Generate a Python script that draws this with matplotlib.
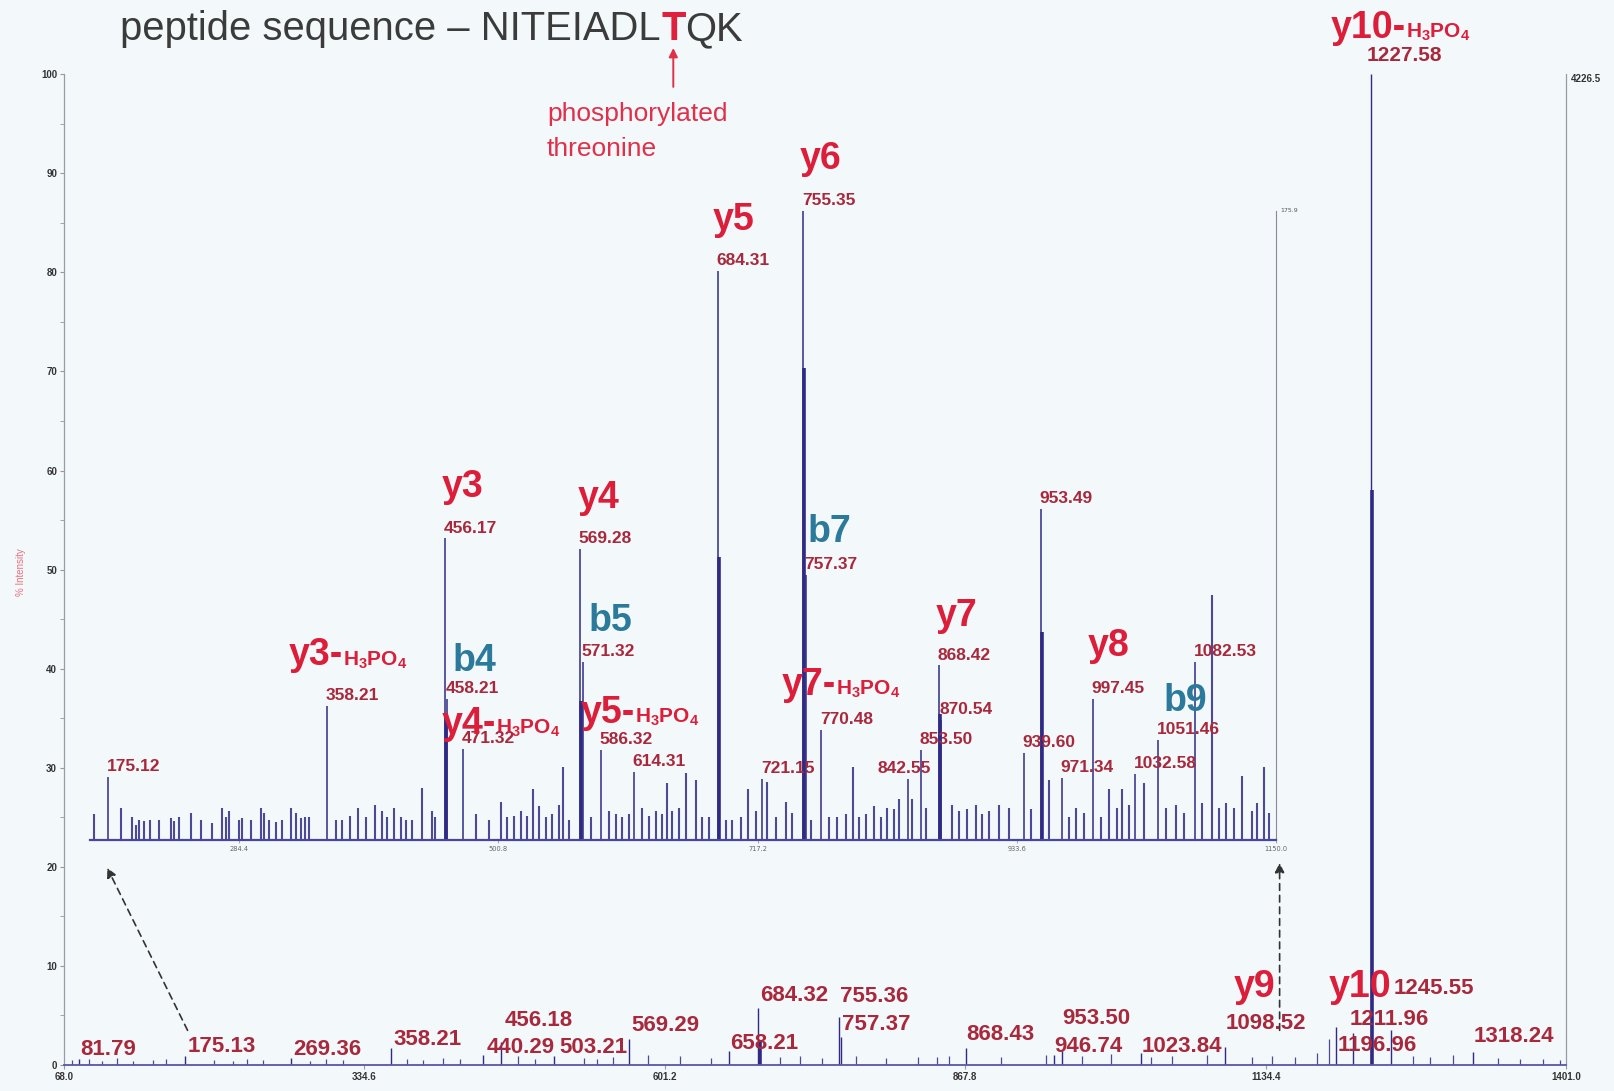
import matplotlib
matplotlib.use('Agg')
import matplotlib.pyplot as plt

plt.rcParams['mathtext.fontset'] = 'custom'
plt.rcParams['mathtext.rm'] = 'Liberation Sans:bold'
plt.rcParams['mathtext.it'] = 'Liberation Sans:bold'
plt.rcParams['mathtext.bf'] = 'Liberation Sans:bold'

SANS = ['Liberation Sans', 'DejaVu Sans']

# full scan, m/z vs % intensity (100 % = 4226.5 counts)
main_mz = [81.79, 175.13, 269.36, 358.21, 440.29, 456.18, 503.21, 569.29, 658.21,
           684.32, 755.36, 757.37, 868.43, 946.74, 953.50, 1023.84, 1098.52,
           1196.96, 1211.96, 1227.58, 1245.55, 1318.24]
main_int = [0.6, 0.9, 0.7, 1.7, 1.0, 2.3, 0.9, 2.6, 1.4,
            5.8, 4.8, 2.8, 1.7, 1.0, 1.4, 1.2, 1.8,
            3.8, 3.2, 100.0, 3.5, 1.3]
# unresolved isotope shoulders
main_iso_mz = [685.32, 1228.58]
main_iso_int = [2.5, 58.0]
# baseline peaks
main_noise_mz = [75.2, 90.1, 101.5, 115.1, 129.3, 147.1, 158.9, 201.3, 218.2, 230.1,
                 244.2, 286.1, 300.3, 315.2, 372.1, 386.3, 404.2, 419.3, 471.3, 486.2,
                 529.3, 541.4, 555.1, 586.3, 614.3, 641.9, 703.2, 721.2, 740.7, 770.5,
                 797.1, 825.6, 842.6, 853.5, 899.3, 939.6, 971.3, 997.5, 1032.6, 1051.5,
                 1082.5, 1121.9, 1140.0, 1160.2, 1180.4, 1190.3, 1265.1, 1280.2, 1300.3,
                 1340.2, 1360.5, 1380.1, 1395.2]
main_noise_int = [0.5, 0.6, 0.4, 0.7, 0.4, 0.5, 0.6, 0.5, 0.4, 0.6,
                  0.5, 0.4, 0.6, 0.5, 0.6, 0.5, 0.7, 0.6, 0.9, 0.6,
                  0.7, 0.6, 0.8, 1.0, 0.9, 0.7, 0.8, 0.9, 0.7, 0.9,
                  0.7, 0.8, 0.8, 0.9, 0.8, 1.0, 0.9, 1.1, 0.8, 0.9,
                  1.0, 0.8, 0.9, 0.8, 1.2, 2.6, 0.9, 0.8, 1.0,
                  0.7, 0.6, 0.6, 0.5]
main_ticks = [68.0, 334.6, 601.2, 867.8, 1134.4, 1401.0]

# labelled peaks of the full scan and where their numbers sit (m/z, %)
main_label_mz = [81.79, 175.13, 269.36, 358.21, 456.18, 440.29, 503.21, 569.29, 658.21,
                 684.32, 755.36, 757.37, 868.43, 953.50, 946.74, 1023.84, 1098.52,
                 1211.96, 1196.96, 1245.55, 1318.24]
main_label_pos = [(82.6, 1.6), (177.7, 1.9), (271.9, 1.6), (360.6, 2.6), (459.3, 4.5),
                  (442.8, 1.8), (507.8, 1.8), (571.7, 4.0), (659.5, 2.2), (686.0, 7.0),
                  (756.4, 6.9), (758.2, 4.1), (868.9, 3.1), (953.9, 4.7), (946.6, 1.9),
                  (1024.3, 1.9), (1099.3, 4.2), (1209.0, 4.6), (1198.0, 2.0), (1248.3, 7.7),
                  (1318.7, 2.9)]

# zoomed region 160-1150 m/z, % of its own base peak (175.9)
inset_mz = [175.12, 358.21, 456.17, 458.21, 471.32, 569.28, 571.32, 586.32, 614.31,
            684.31, 721.15, 755.35, 757.37, 770.48, 842.55, 853.50, 868.42, 870.54,
            939.60, 953.49, 971.34, 997.45, 1032.58, 1051.46, 1082.53]
inset_int = [10.0, 21.3, 47.9, 22.3, 14.4, 46.2, 28.2, 14.3, 10.7,
             90.5, 9.7, 100.0, 42.1, 17.4, 9.7, 14.3, 27.7, 19.0,
             13.8, 52.6, 9.8, 22.3, 10.5, 15.9, 28.2]
inset_iso_mz = [457.17, 570.28, 685.31, 756.35, 869.42, 954.49]
inset_iso_int = [20.0, 22.0, 45.0, 75.0, 20.0, 33.0]
inset_noise_mz = [163.4, 185.6, 194.8, 198.2, 200.9, 205.1, 210.1, 217.6, 227.4, 230.1,
                  234.3, 244.1, 252.4, 262.1, 270.0, 273.3, 276.1, 284.4, 287.2, 294.2,
                  302.5, 305.3, 309.4, 315.0, 320.5, 327.6, 331.7, 335.9, 339.5, 342.8,
                  365.1, 370.6, 376.8, 384.0, 390.2, 397.9, 404.0, 408.2,
                  413.8, 419.4, 423.5, 429.1, 437.4, 445.2, 448.0, 482.0, 493.1, 502.8,
                  508.4, 514.0, 519.5, 525.1, 529.8, 534.8, 540.4, 545.9, 551.5, 554.9,
                  559.9, 578.0, 593.2, 598.8, 604.4, 609.9, 621.0, 626.6, 632.2, 637.7,
                  641.9, 646.1, 651.7, 657.3,
                  665.6, 671.1, 676.7, 690.6, 696.2, 703.2, 709.5, 715.7, 725.4, 732.4,
                  740.7, 746.3, 761.6, 776.9, 783.8, 790.8, 796.9, 801.9, 807.5, 814.5,
                  820.0, 825.6, 831.1, 835.3, 846.5, 857.6, 879.8, 885.4, 892.3, 899.3,
                  904.9,
                  910.5, 918.8, 927.1, 945.2, 960.5, 977.2, 982.8, 989.7, 1003.7, 1010.6,
                  1017.5, 1021.7, 1027.3, 1039.8, 1057.9, 1066.3, 1073.2, 1088.5, 1096.3,
                  1102.4, 1108.0, 1114.9, 1121.9, 1130.2, 1134.4, 1140.0, 1144.2]
inset_noise_int = [4.0, 5.0, 3.6, 2.3, 3.1, 3.0, 3.1, 3.1, 3.4, 3.0,
                   3.6, 4.2, 3.1, 2.6, 5.0, 3.6, 4.5, 3.1, 3.4, 3.1,
                   5.0, 4.2, 3.1, 2.8, 3.1, 5.0, 4.2, 3.4, 3.6, 3.6,
                   3.1, 3.1, 3.8, 5.0, 3.6, 5.5, 4.5, 3.6,
                   5.0, 3.6, 3.1, 3.1, 8.2, 4.5, 3.6, 4.0, 3.1, 5.9,
                   3.6, 3.8, 4.5, 3.8, 8.0, 5.3, 3.6, 4.0, 5.5, 11.6,
                   3.1, 3.6, 4.5, 4.0, 3.6, 4.0, 5.0, 3.8, 4.5, 4.0,
                   9.0, 4.5, 5.0, 10.6,
                   9.5, 3.6, 3.6, 3.1, 3.1, 3.6, 8.1, 4.5, 9.2, 3.6,
                   6.0, 4.2, 3.1, 3.6, 3.6, 4.0, 11.6, 3.6, 4.0, 5.3,
                   3.6, 5.0, 4.8, 6.4, 6.4, 5.0, 5.5, 4.5, 4.8, 5.5,
                   4.0,
                   4.5, 5.5, 5.0, 4.8, 9.5, 3.6, 5.0, 4.2, 3.6, 8.0,
                   5.0, 8.0, 5.5, 9.0, 5.0, 5.5, 4.2, 5.8, 38.9,
                   5.0, 5.8, 5.0, 10.1, 4.5, 5.8, 11.6, 4.2]
inset_ticks = [284.4, 500.8, 717.2, 933.6, 1150.0]

# fragment ion names: text, m/z, height, ion series, neutral loss of H3PO4
inset_ions = [
    ('y3-', 325.7, 29.3, 'y', True),
    ('y3', 453.8, 56.1, 'y', False),
    ('b4', 462.4, 28.4, 'b', False),
    ('y4-', 453.8, 18.4, 'y', True),
    ('y4', 567.3, 54.3, 'y', False),
    ('b5', 575.9, 34.8, 'b', False),
    ('y5-', 569.9, 20.2, 'y', True),
    ('y5', 679.9, 98.5, 'y', False),
    ('y6', 752.2, 108.2, 'y', False),
    ('b7', 759.0, 48.9, 'b', False),
    ('y7-', 737.5, 24.6, 'y', True),
    ('y7', 865.7, 35.6, 'y', False),
    ('y8', 992.9, 30.8, 'y', False),
    ('b9', 1055.7, 22.1, 'b', False),
]
main_ions = [
    ('y10-', 1192.5, 104.7, 'y', True),
    ('y9', 1105.7, 7.9, 'y', False),
    ('y10', 1190.7, 7.9, 'y', False),
]

bg = '#f3f8fa'
spec = '#2f2b85'
num_red = '#a8283c'
ion_col = {'y': '#dc1e3a', 'b': '#2b7a9b'}


def ion_label(ax, name, x, y, series, loss):
    col = ion_col[series]
    t = ax.text(x, y, name, fontsize=27, fontweight='bold', color=col, family=SANS,
                ha='left', va='center', clip_on=False, zorder=6)
    if loss:
        ax.annotate(r'H$_\mathrm{3}$PO$_\mathrm{4}$', xy=(1, 0), xycoords=t,
                    xytext=(0, 2), textcoords='offset points', fontsize=15,
                    fontweight='bold', color=col, family=SANS, ha='left', va='bottom',
                    zorder=6)


fig = plt.figure(figsize=(16.15, 10.91), dpi=100, facecolor=bg)

# ---- full scan ----
ax = fig.add_axes([0.0396, 0.0238, 0.9301, 0.9082])
ax.set_facecolor(bg)
ax.vlines(main_noise_mz, 0, main_noise_int, colors=spec, lw=0.9, alpha=0.85)
ax.vlines(main_iso_mz, 0, main_iso_int, colors=spec, lw=2.6)
ax.vlines(main_mz, 0, main_int, colors=spec, lw=1.0)
ax.set_xlim(68.0, 1401.0)
ax.set_ylim(0, 100)
ax.set_xticks(main_ticks)
ax.set_xticklabels([f'{v:.1f}' for v in main_ticks])
ax.set_yticks(range(0, 101, 10))
ax.set_yticks(range(5, 100, 10), minor=True)
ax.tick_params(axis='both', which='both', length=3, color='#999999', labelsize=7,
               labelcolor='#333333', pad=2)
for lab in ax.get_xticklabels() + ax.get_yticklabels():
    lab.set_family(SANS)
    lab.set_fontweight('bold')
ax.spines['top'].set_visible(False)
for s in ('left', 'right'):
    ax.spines[s].set_color('#9a9aa6')
    ax.spines[s].set_linewidth(0.9)
ax.spines['bottom'].set_color('#5a56a6')
ax.spines['bottom'].set_linewidth(1.3)
ax.text(1.003, 1.0, '4226.5', transform=ax.transAxes, fontsize=7, fontweight='bold',
        family=SANS, color='#333333', ha='left', va='top')

for mz, (lx, ly) in zip(main_label_mz, main_label_pos):
    ax.text(lx, ly, f'{mz:.2f}', fontsize=16, fontweight='bold', family=SANS,
            color=num_red, ha='left', va='center', zorder=5)
ax.text(1223.6, 101.9, f'{main_mz[main_mz.index(1227.58)]:.2f}', fontsize=15,
        fontweight='bold', family=SANS, color=num_red, ha='left', va='center',
        clip_on=False, zorder=5)
for name, x, y, series, loss in main_ions:
    ion_label(ax, name, x, y, series, loss)

# dashed pointers from the full scan to the zoomed window
for (x0, y0), (x1, y1) in [((177.7, 3.5), (106.4, 19.9)), ((1146.8, 3.5), (1146.8, 20.4))]:
    ax.annotate('', xy=(x1, y1), xytext=(x0, y0),
                arrowprops=dict(arrowstyle='-|>', ls=(0, (4, 3)), lw=1.2, color='#333333',
                                mutation_scale=14, shrinkA=0, shrinkB=0))

# ---- zoomed window ----
axi = fig.add_axes([0.0557, 0.2305, 0.7344, 0.5761])
axi.patch.set_alpha(0)
axi.vlines(inset_noise_mz, 0, inset_noise_int, colors=spec, lw=1.5, alpha=0.85)
axi.vlines(inset_iso_mz, 0, inset_iso_int, colors=spec, lw=2.6)
axi.vlines(inset_mz, 0, inset_int, colors=spec, lw=1.1)
axi.set_xlim(160.0, 1150.0)
axi.set_ylim(0, 100)
axi.set_yticks([])
axi.set_xticks(inset_ticks)
axi.set_xticklabels([f'{v:.1f}' for v in inset_ticks])
axi.tick_params(axis='x', length=2, color='#aaaaaa', labelsize=4.8, labelcolor='#666666',
                pad=3)
axi.spines['top'].set_visible(False)
axi.spines['left'].set_visible(False)
axi.spines['right'].set_color('#8a8a96')
axi.spines['right'].set_linewidth(0.8)
axi.spines['bottom'].set_color('#4a46a0')
axi.spines['bottom'].set_linewidth(1.6)
axi.text(1.004, 1.0, '175.9', transform=axi.transAxes, fontsize=4.5, color='#555555',
         ha='left', va='center')

for mz, h in zip(inset_mz, inset_int):
    dx = -22 if mz == 842.55 else -1
    axi.annotate(f'{mz:.2f}', xy=(mz, h), xytext=(dx, 7.5), textcoords='offset points',
                 fontsize=12.5, fontweight='bold', family=SANS, color=num_red,
                 ha='left', va='center', annotation_clip=False, zorder=5)
for name, x, y, series, loss in inset_ions:
    ion_label(axi, name, x, y, series, loss)

# ---- heading ----
t1 = fig.text(0.0746, 0.9734, 'peptide sequence \u2013 NITEIADL', fontsize=28.8,
              color='#3b3b3b', family=SANS, ha='left', va='center')
t2 = ax.annotate('T', xy=(1, 0), xycoords=t1, fontsize=28.8, fontweight='bold',
                 color='#e0203c', family=SANS, ha='left', va='bottom')
ax.annotate('QK', xy=(1, 0), xycoords=t2, fontsize=28.8, color='#3b3b3b', family=SANS,
            ha='left', va='bottom')
ax.annotate('', xy=(0.5, 0), xycoords=t2, xytext=(0, -28), textcoords='offset points',
            arrowprops=dict(arrowstyle='-|>', color='#e0304a', lw=1.4, mutation_scale=13,
                            shrinkA=0, shrinkB=0))
fig.text(0.3387, 0.8795, 'phosphorylated\nthreonine', fontsize=19, color='#e0304a',
         family=SANS, ha='left', va='center', linespacing=1.55)
fig.text(0.013, 0.4757, '% Intensity', rotation=90, fontsize=7, color='#e87080',
         family=SANS, ha='center', va='center')

fig.savefig('out.png', dpi=100, facecolor=bg)
